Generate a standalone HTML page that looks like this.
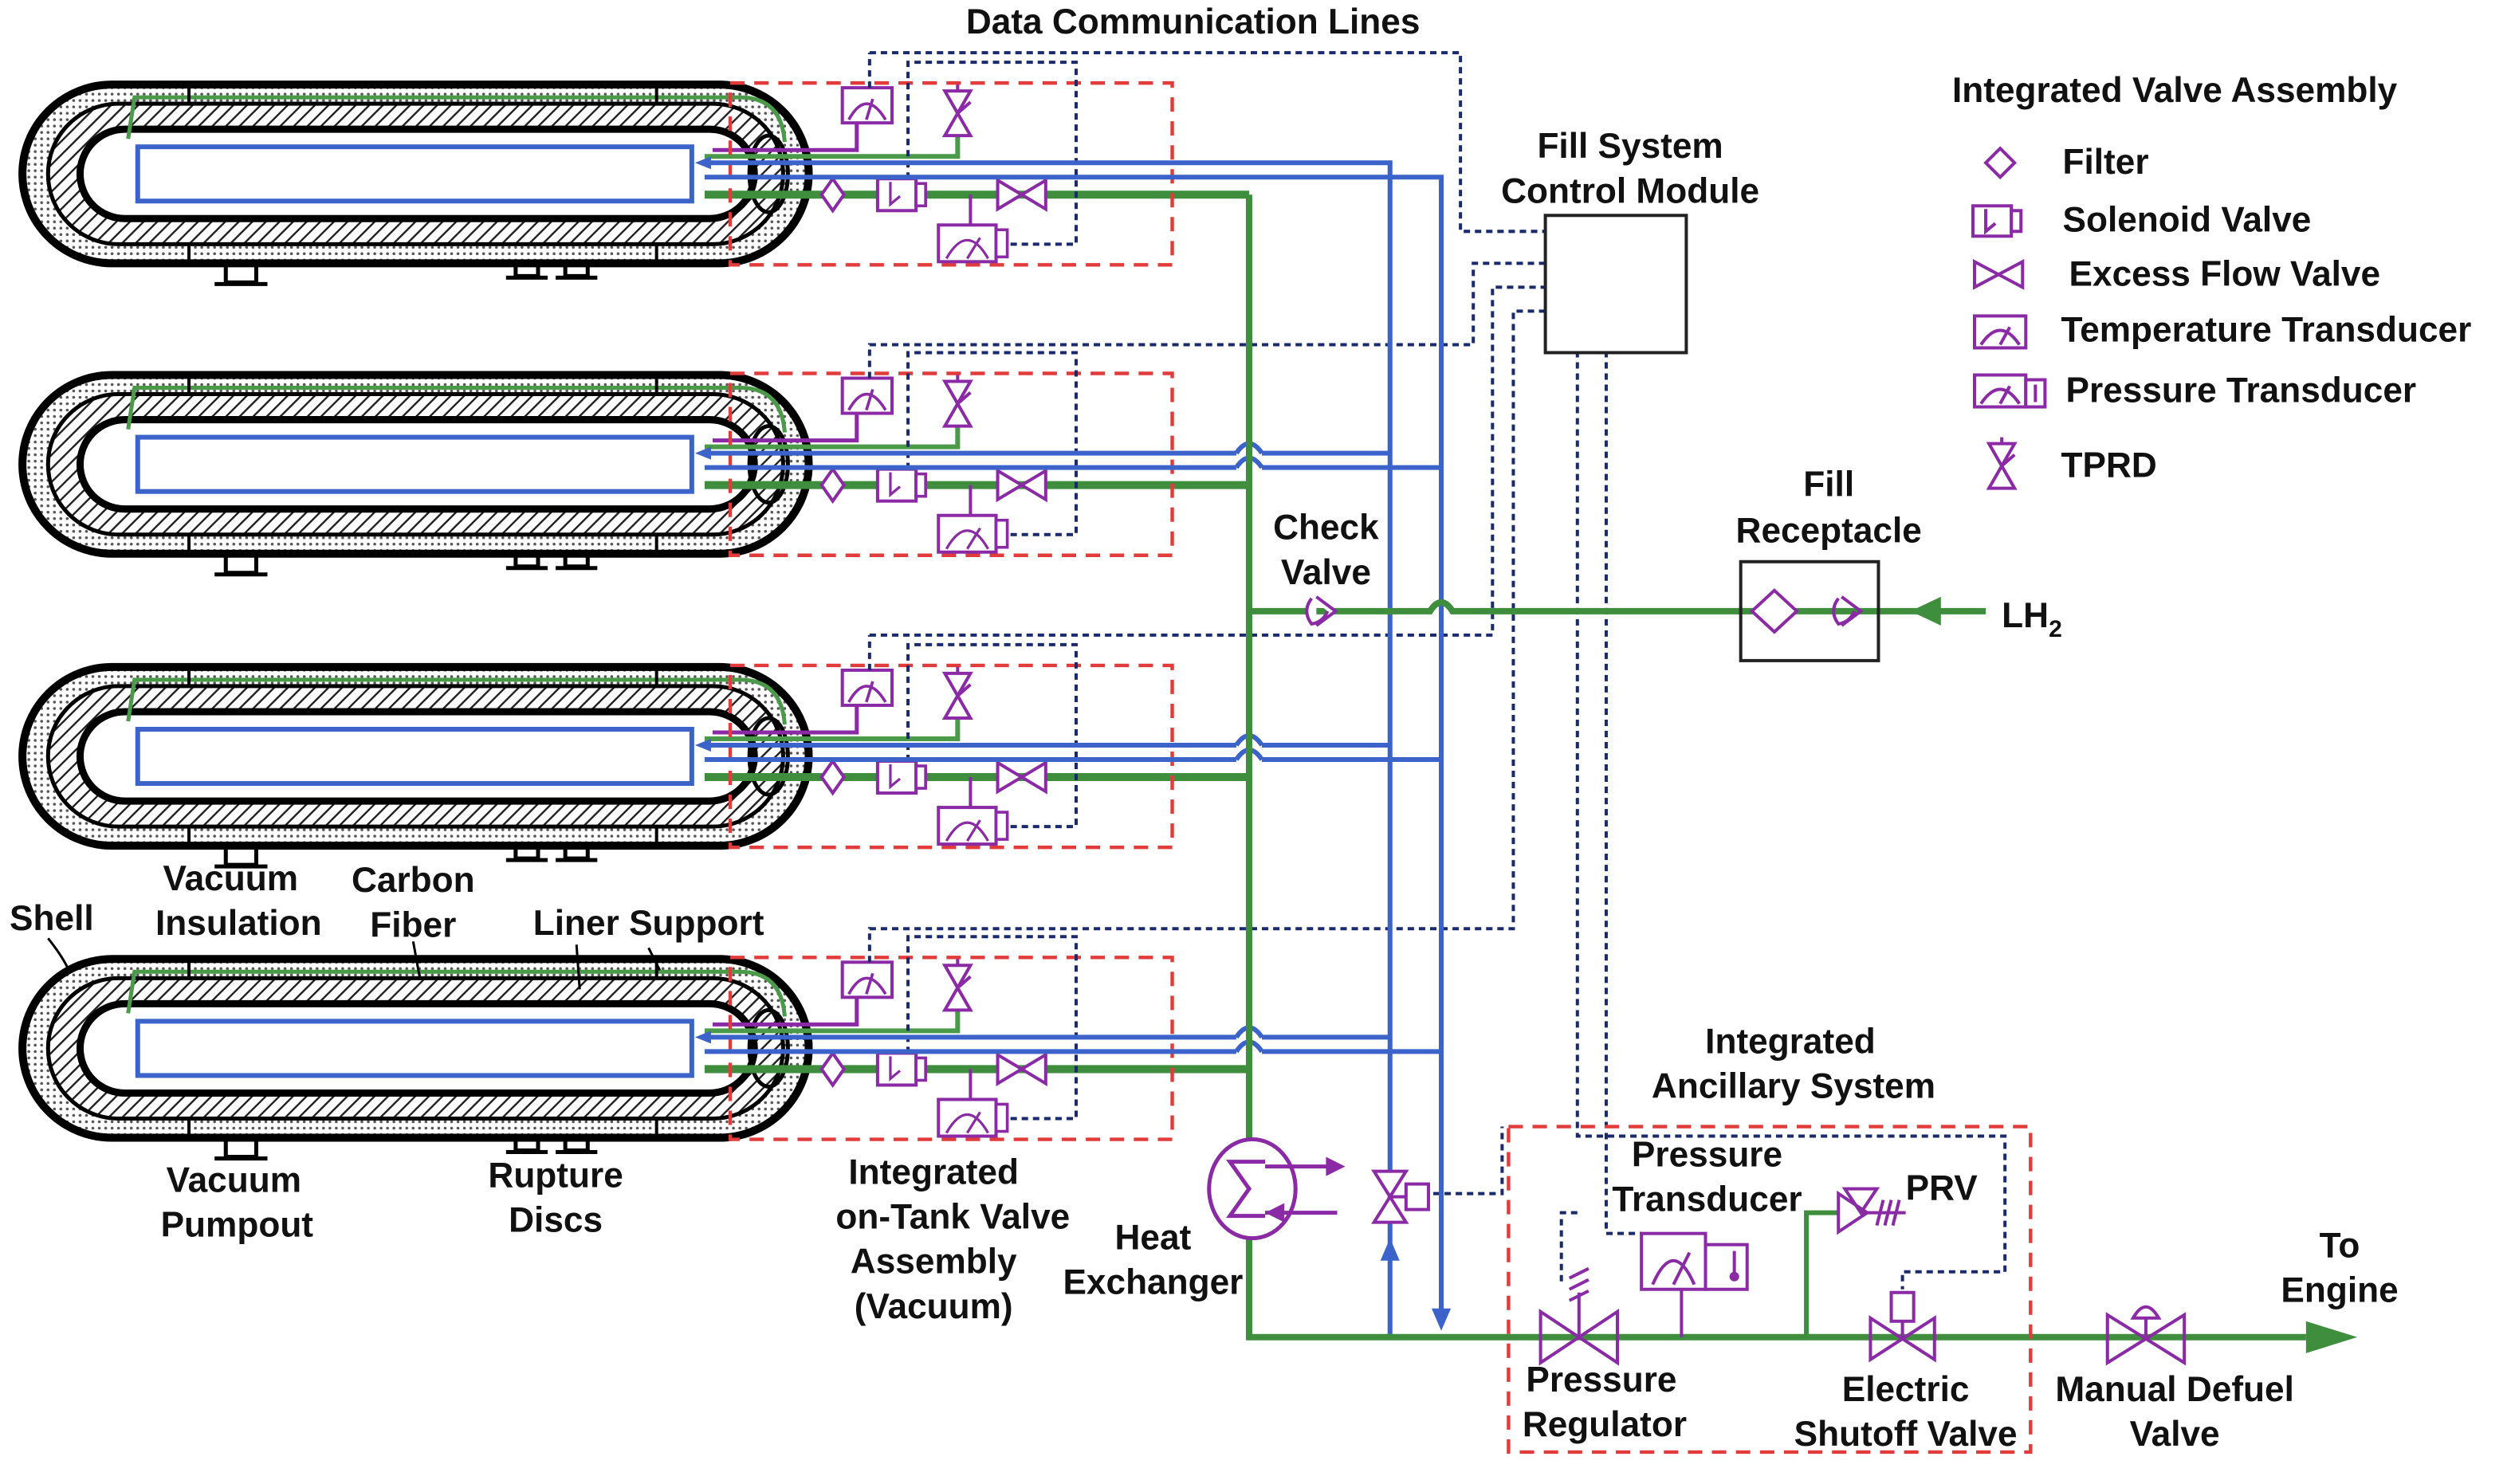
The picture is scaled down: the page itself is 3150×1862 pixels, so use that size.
<!DOCTYPE html>
<html><head><meta charset="utf-8"><style>
html,body{margin:0;padding:0;background:#fff}
svg{display:block}
text{font-family:"Liberation Sans",Arial,sans-serif;font-weight:bold;fill:#111;font-size:22px}
</style></head><body>
<svg width="3150" height="1862" viewBox="0 0 1568 930" preserveAspectRatio="none" xmlns="http://www.w3.org/2000/svg">
<defs>
<pattern id="hatch" width="6" height="6" patternUnits="userSpaceOnUse" patternTransform="rotate(45)">
<rect width="6" height="6" fill="#fff"/><line x1="0" y1="0" x2="0" y2="6" stroke="#222" stroke-width="2.4"/></pattern>
<pattern id="dots" width="4" height="4" patternUnits="userSpaceOnUse">
<rect width="4" height="4" fill="#fff"/><circle cx="2" cy="2" r="0.9" fill="#555"/></pattern>
<g id="tank">
<rect x="14" y="-56" width="491" height="112" rx="56" fill="url(#dots)" stroke="#000" stroke-width="5"/>
<rect x="30" y="-44" width="459" height="88" rx="44" fill="url(#hatch)" stroke="#000" stroke-width="2.5"/>
<rect x="50" y="-28" width="421" height="56" rx="28" fill="#fff" stroke="#000" stroke-width="4.5"/>
<rect x="86" y="-17" width="346" height="34" fill="none" stroke="#3b63c9" stroke-width="3"/>
<path d="M80,-22 L84,-48 H462 Q488,-48 490,-20" fill="none" stroke="#4a9a4a" stroke-width="2.5"/>
<line x1="118" y1="-56" x2="118" y2="-44" stroke="#000" stroke-width="2"/>
<line x1="410" y1="-56" x2="410" y2="-44" stroke="#000" stroke-width="2"/>
<line x1="118" y1="44" x2="118" y2="56" stroke="#000" stroke-width="2"/>
<line x1="410" y1="44" x2="410" y2="56" stroke="#000" stroke-width="2"/>
<g fill="none" stroke="#000" stroke-width="2.5">
<path d="M141,57 V68 H160 V57"/><line x1="134" y1="69" x2="167" y2="69"/>
<path d="M322,57 V64 H336 V57"/><line x1="316" y1="65" x2="342" y2="65"/>
<path d="M353,57 V64 H367 V57"/><line x1="347" y1="65" x2="373" y2="65"/>
</g>
<ellipse cx="480" cy="0" rx="12" ry="24" fill="none" stroke="#000" stroke-width="2.5"/>
<path d="M445,-15 H535 V-33" fill="none" stroke="#8a2aa5" stroke-width="2.5"/>
<path d="M440,-11 H598 V-24" fill="none" stroke="#4a9a4a" stroke-width="3"/>
<line x1="440" y1="13" x2="780" y2="13" stroke="#3e8e3e" stroke-width="5"/>
<polygon points="434,-7 444,-11 444,-3" fill="#3b63c9"/>
<rect x="456" y="-57" width="276" height="114" fill="none" stroke="#e23b3b" stroke-width="2.2" stroke-dasharray="9,6"/>
<rect x="526" y="-54" width="31" height="22" fill="#fff" stroke="#8a2aa5" stroke-width="2"/>
<path d="M530,-34 Q541,-54 553,-34 M541,-34 L545,-47" fill="none" stroke="#8a2aa5" stroke-width="1.8"/>
<path d="M590,-52 L606,-52 L598,-38 Z M590,-24 L606,-24 L598,-38 Z M598,-38 L606,-45 M598,-56 V-52" fill="#fff" stroke="#8a2aa5" stroke-width="2"/>
<polygon points="520,3 527,13 520,23 513,13" fill="#fff" stroke="#8a2aa5" stroke-width="2"/>
<rect x="548" y="3" width="24" height="20" fill="#fff" stroke="#8a2aa5" stroke-width="2"/>
<rect x="572" y="6" width="6" height="14" fill="#fff" stroke="#8a2aa5" stroke-width="1.8"/>
<path d="M556,5 V19 L562,14" fill="none" stroke="#8a2aa5" stroke-width="1.6"/>
<path d="M623,4 L653,22 L653,4 L623,22 Z" fill="#fff" stroke="#8a2aa5" stroke-width="2"/>
<line x1="606" y1="13" x2="606" y2="32" stroke="#8a2aa5" stroke-width="2"/>
<rect x="586" y="32" width="36" height="23" fill="#fff" stroke="#8a2aa5" stroke-width="2"/>
<rect x="622" y="35" width="7" height="17" fill="#fff" stroke="#8a2aa5" stroke-width="1.8"/>
<path d="M591,53 Q604,30 617,53 M604,53 L612,40" fill="none" stroke="#8a2aa5" stroke-width="1.6"/>
<g fill="none" stroke="#1a2a6c" stroke-width="2" stroke-dasharray="4,3">
<path d="M567,3 V-70 H672 V44 H630"/>
<path d="M543,-54 V-76"/>
</g>
</g>
<g id="hop"><path d="M772,0 Q780,-12 788,0" fill="none" stroke="#3b63c9" stroke-width="3"/></g>
</defs>

<g fill="none" stroke="#1a2a6c" stroke-width="2" stroke-dasharray="4,3">
<path d="M543,33 H912 V145 H965"/>
<path d="M543,216 H920 V165 H965"/>
<path d="M543,398 H932 V180 H965"/>
<path d="M543,582 H945 V195 H965"/>
<path d="M985,220 V712 H1252 V797 H1188 V808"/>
<path d="M1003,220 V773 H1025"/>
<path d="M895,748 H938 V706"/>
<path d="M985,760 H975 V805"/>
</g>

<use href="#tank" transform="translate(0,109)"/>
<use href="#tank" transform="translate(0,291)"/>
<use href="#tank" transform="translate(0,474)"/>
<use href="#tank" transform="translate(0,657)"/>

<g fill="none" stroke="#3b63c9" stroke-width="3">
<path d="M444,102 H868 V838"/>
<path d="M440,111 H900 V830"/>
<path d="M444,284 H772 M788,284 H868"/>
<path d="M440,293 H772 M788,293 H900"/>
<path d="M444,467 H772 M788,467 H868"/>
<path d="M440,476 H772 M788,476 H900"/>
<path d="M444,650 H772 M788,650 H868"/>
<path d="M440,659 H772 M788,659 H900"/>
</g>
<use href="#hop" transform="translate(0,284)"/><use href="#hop" transform="translate(0,293)"/>
<use href="#hop" transform="translate(0,467)"/><use href="#hop" transform="translate(0,476)"/>
<use href="#hop" transform="translate(0,650)"/><use href="#hop" transform="translate(0,659)"/>
<polygon points="868,776 862,790 874,790" fill="#3b63c9"/>
<polygon points="900,834 894,820 906,820" fill="#3b63c9"/>

<g fill="none" stroke="#3e8e3e">
<path d="M780,122 V717 M780,773 V838 H1440" stroke-width="4"/>
<path d="M780,383 H893 Q900,372 907,383 H1240" stroke-width="4"/>
</g>
<polygon points="1472,838 1440,828 1440,848" fill="#3e8e3e"/>
<polygon points="1193,383 1212,374 1212,392" fill="#3e8e3e"/>

<path d="M822,374 L834,383 L822,392 M819,375 Q813,383 819,391 Q826,390 829,383" fill="#fff" stroke="#8a2aa5" stroke-width="2"/>

<rect x="965" y="135" width="88" height="86" fill="#fff" stroke="#222" stroke-width="2"/>
<rect x="1087" y="352" width="86" height="62" fill="none" stroke="#222" stroke-width="2"/>
<polygon points="1108,370 1122,383 1108,396 1094,383" fill="#fff" stroke="#8a2aa5" stroke-width="2"/>
<path d="M1150,374 L1162,383 L1150,392 M1148,375 Q1142,383 1148,391 Q1155,390 1158,383" fill="none" stroke="#8a2aa5" stroke-width="2"/>

<ellipse cx="782" cy="745" rx="27" ry="31" fill="#fff" stroke="#8a2aa5" stroke-width="2.5"/>
<path d="M790,728 H768 L780,745 L768,762 H790" fill="none" stroke="#8a2aa5" stroke-width="2.5"/>
<path d="M790,731 H835 M790,760 H835" stroke="#8a2aa5" stroke-width="2.5"/>
<polygon points="840,731 828,725 828,737" fill="#8a2aa5"/><polygon points="790,760 802,754 802,766" fill="#8a2aa5"/>
<path d="M858,734 H878 L868,750 Z M858,766 H878 L868,750 Z M868,750 H878" fill="#fff" stroke="#8a2aa5" stroke-width="2"/>
<rect x="878" y="742" width="14" height="16" fill="#fff" stroke="#8a2aa5" stroke-width="2"/>

<rect x="942" y="706" width="326" height="204" fill="none" stroke="#e23b3b" stroke-width="2.2" stroke-dasharray="9,6"/>
<path d="M962,822 L1010,854 L1010,822 L962,854 Z" fill="none" stroke="#8a2aa5" stroke-width="2"/>
<path d="M986,838 V810 M980,815 L992,809 M980,808 L992,802 M980,801 L992,795" stroke="#8a2aa5" stroke-width="2"/>
<line x1="1050" y1="808" x2="1050" y2="838" stroke="#8a2aa5" stroke-width="2"/>
<rect x="1025" y="773" width="40" height="35" fill="#fff" stroke="#8a2aa5" stroke-width="2"/>
<rect x="1065" y="780" width="26" height="28" fill="#fff" stroke="#8a2aa5" stroke-width="2"/>
<path d="M1032,805 Q1045,775 1058,805 M1045,805 L1055,785 M1083,784 V800" fill="none" stroke="#8a2aa5" stroke-width="2"/>
<circle cx="1083" cy="800" r="3" fill="#8a2aa5"/>
<path d="M1128,838 V760 H1148" fill="none" stroke="#3e8e3e" stroke-width="3"/>
<path d="M1148,748 L1148,772 L1166,760 Z M1152,745 H1172 L1162,760 Z M1162,760 H1190 M1176,752 L1172,768 M1181,752 L1177,768 M1186,752 L1182,768" fill="#fff" stroke="#8a2aa5" stroke-width="2"/>
<path d="M1168,826 L1208,852 L1208,826 L1168,852 Z M1188,839 V828" fill="none" stroke="#8a2aa5" stroke-width="2"/>
<rect x="1181" y="810" width="14" height="18" fill="#fff" stroke="#8a2aa5" stroke-width="2"/>
<path d="M1316,824 L1364,854 L1364,824 L1316,854 Z M1340,839 V826" fill="none" stroke="#8a2aa5" stroke-width="2"/>
<path d="M1332,826 Q1340,812 1348,826 Z" fill="#fff" stroke="#8a2aa5" stroke-width="2"/>

<g fill="#fff" stroke="#8a2aa5" stroke-width="2">
<polygon points="1249,93 1258,102 1249,111 1240,102"/>
<rect x="1232" y="129" width="24" height="19"/><rect x="1256" y="132" width="6" height="13"/>
<path d="M1240,131 V145 L1246,140" fill="none"/>
<path d="M1233,164 L1263,180 L1263,164 L1233,180 Z"/>
<rect x="1233" y="198" width="32" height="20"/><path d="M1237,216 Q1249,198 1261,216 M1249,216 L1255,205" fill="none"/>
<rect x="1233" y="235" width="32" height="20"/><rect x="1265" y="238" width="12" height="17"/>
<path d="M1237,253 Q1249,235 1261,253 M1249,253 L1255,242 M1271,241 V252" fill="none"/>
<path d="M1242,278 L1258,278 L1250,292 Z M1242,306 L1258,306 L1250,292 Z M1250,292 L1258,285 M1250,274 V278"/>
</g>

<text x="745" y="21" text-anchor="middle">Data Communication Lines</text>
<text x="1358" y="64" text-anchor="middle">Integrated Valve Assembly</text>
<text x="1288" y="109">Filter</text>
<text x="1288" y="145">Solenoid Valve</text>
<text x="1292" y="179">Excess Flow Valve</text>
<text x="1287" y="214">Temperature Transducer</text>
<text x="1290" y="252">Pressure Transducer</text>
<text x="1287" y="299">TPRD</text>
<text x="1018" y="99" text-anchor="middle">Fill System</text>
<text x="1018" y="127" text-anchor="middle">Control Module</text>
<text x="1142" y="311" text-anchor="middle">Fill</text>
<text x="1142" y="340" text-anchor="middle">Receptacle</text>
<text x="1250" y="393">LH<tspan font-size="15" dy="6">2</tspan></text>
<text x="828" y="338" text-anchor="middle">Check</text>
<text x="828" y="366" text-anchor="middle">Valve</text>
<text x="6" y="583">Shell</text>
<text x="144" y="558" text-anchor="middle">Vacuum</text>
<text x="149" y="586" text-anchor="middle">Insulation</text>
<text x="258" y="559" text-anchor="middle">Carbon</text>
<text x="258" y="587" text-anchor="middle">Fiber</text>
<text x="405" y="586" text-anchor="middle">Liner Support</text>
<path d="M30,588 Q38,598 42,606 M258,590 L262,612 M360,592 L362,620 M405,594 L412,608" fill="none" stroke="#000" stroke-width="1.5"/>
<text x="146" y="747" text-anchor="middle">Vacuum</text>
<text x="148" y="775" text-anchor="middle">Pumpout</text>
<text x="347" y="744" text-anchor="middle">Rupture</text>
<text x="347" y="772" text-anchor="middle">Discs</text>
<text x="583" y="742" text-anchor="middle">Integrated</text>
<text x="595" y="770" text-anchor="middle">on-Tank Valve</text>
<text x="583" y="798" text-anchor="middle">Assembly</text>
<text x="583" y="826" text-anchor="middle">(Vacuum)</text>
<text x="720" y="783" text-anchor="middle">Heat</text>
<text x="720" y="811" text-anchor="middle">Exchanger</text>
<text x="1118" y="660" text-anchor="middle">Integrated</text>
<text x="1120" y="688" text-anchor="middle">Ancillary System</text>
<text x="1066" y="731" text-anchor="middle">Pressure</text>
<text x="1066" y="759" text-anchor="middle">Transducer</text>
<text x="1190" y="752">PRV</text>
<text x="1000" y="872" text-anchor="middle">Pressure</text>
<text x="1002" y="900" text-anchor="middle">Regulator</text>
<text x="1190" y="878" text-anchor="middle">Electric</text>
<text x="1190" y="906" text-anchor="middle">Shutoff Valve</text>
<text x="1358" y="878" text-anchor="middle">Manual Defuel</text>
<text x="1358" y="906" text-anchor="middle">Valve</text>
<text x="1461" y="788" text-anchor="middle">To</text>
<text x="1461" y="816" text-anchor="middle">Engine</text>
</svg>
</body></html>
